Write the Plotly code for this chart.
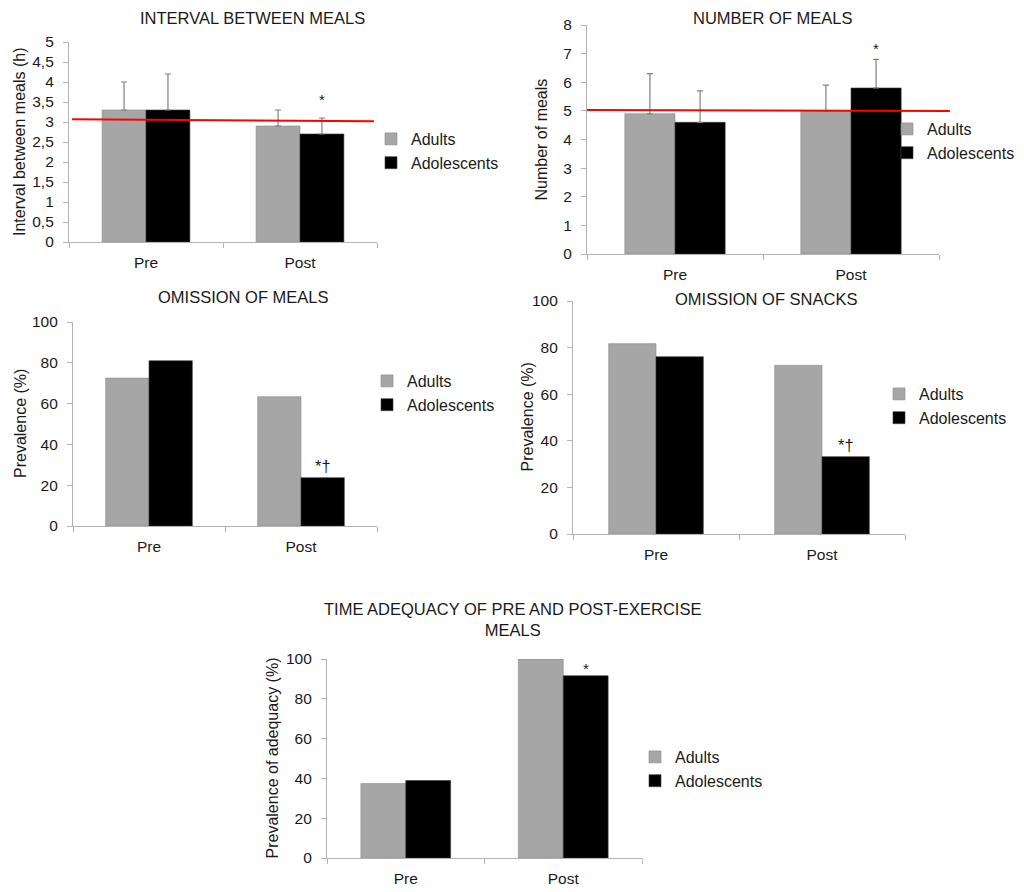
import plotly.graph_objects as go

W, H = 1024, 892
OFF = 8  # page body margin offset in the browser

categories = ["Pre", "Post"]
groups = ["Adults", "Adolescents"]

interval_adults = [3.3, 2.9]
interval_adolescents = [3.3, 2.7]
interval_adults_sd = [0.7, 0.4]
interval_adolescents_sd = [0.9, 0.4]
interval_reference = [3.07, 3.02]
interval_tickvals = [0, 0.5, 1, 1.5, 2, 2.5, 3, 3.5, 4, 4.5, 5]
interval_ticktext = ["0", "0,5", "1", "1,5", "2", "2,5", "3", "3,5", "4", "4,5", "5"]

meals_adults = [4.9, 5.0]
meals_adolescents = [4.6, 5.8]
meals_adults_sd = [1.4, 0.9]
meals_adolescents_sd = [1.1, 1.0]
meals_reference = [5.03, 5.0]
meals_tickvals = [0, 1, 2, 3, 4, 5, 6, 7, 8]

omission_meals_adults = [72.5, 63.4]
omission_meals_adolescents = [81.0, 23.7]

omission_snacks_adults = [81.7, 72.4]
omission_snacks_adolescents = [76.1, 33.2]

adequacy_adults = [37.4, 100.0]
adequacy_adolescents = [38.9, 91.6]

pct_tickvals = [0, 20, 40, 60, 80, 100]

GRAY = "#a6a6a6"
BLACK = "#000000"
AXIS = "#b3b3b3"
TXT = "#1a1a1a"
FONT = "Liberation Sans, Arial, sans-serif"
BARGAP = 0.43


def fx(px):
    return (px - OFF) / W


def fy(py):
    return 1 - (py - OFF) / H


panels = [
    dict(title="INTERVAL BETWEEN MEALS", title_xy=(252, 18),
         ytitle="Interval between meals (h)", ytitle_x=19,
         adults=interval_adults, adol=interval_adolescents,
         adults_sd=interval_adults_sd, adol_sd=interval_adolescents_sd,
         ref=interval_reference, ref_x=(0.01, 0.99),
         yr=[0, 5], tv=interval_tickvals, tt=interval_ticktext,
         box=(69, 377, 42, 242), mark="*", mark_size=15, mark_shift=8,
         legend=(371, 122)),
    dict(title="NUMBER OF MEALS", title_xy=(773, 18),
         ytitle="Number of meals", ytitle_x=541,
         adults=meals_adults, adol=meals_adolescents,
         adults_sd=meals_adults_sd, adol_sd=meals_adolescents_sd,
         ref=meals_reference, ref_x=(0.0, 1.031),
         yr=[0, 8], tv=meals_tickvals, tt=[str(v) for v in meals_tickvals],
         box=(587, 939, 25, 254), mark="*", mark_size=15, mark_shift=0,
         legend=(887, 112)),
    dict(title="OMISSION OF MEALS", title_xy=(243, 297),
         ytitle="Prevalence (%)", ytitle_x=20,
         adults=omission_meals_adults, adol=omission_meals_adolescents,
         adults_sd=None, adol_sd=None, ref=None,
         yr=[0, 100], tv=pct_tickvals, tt=[str(v) for v in pct_tickvals],
         box=(73, 377, 322, 526), mark="*†", mark_size=16.5, mark_shift=1,
         legend=(367, 364)),
    dict(title="OMISSION OF SNACKS", title_xy=(766, 299),
         ytitle="Prevalence (%)", ytitle_x=527,
         adults=omission_snacks_adults, adol=omission_snacks_adolescents,
         adults_sd=None, adol_sd=None, ref=None,
         yr=[0, 100], tv=pct_tickvals, tt=[str(v) for v in pct_tickvals],
         box=(573, 905, 301, 534), mark="*†", mark_size=16.5, mark_shift=1,
         legend=(879, 377)),
    dict(title="TIME ADEQUACY OF PRE AND POST-EXERCISE<br>MEALS", title_xy=(512, 619),
         ytitle="Prevalence of adequacy (%)", ytitle_x=272,
         adults=adequacy_adults, adol=adequacy_adolescents,
         adults_sd=None, adol_sd=None, ref=None,
         yr=[0, 100], tv=pct_tickvals, tt=[str(v) for v in pct_tickvals],
         box=(327, 642, 659, 858), mark="*", mark_size=15, mark_shift=-3,
         legend=(635, 740)),
]

fig = go.Figure()
layout = dict(width=W, height=H,
              margin=dict(l=0, r=0, t=0, b=0, pad=0, autoexpand=False),
              template="none",
              paper_bgcolor="white", plot_bgcolor="white",
              barmode="group", bargap=BARGAP, bargroupgap=0,
              font=dict(family=FONT, color=TXT, size=15))
annotations = []
shapes = []


def err(sd):
    if sd is None:
        return None
    return dict(type="data", array=sd, arrayminus=[0] * len(sd), symmetric=False,
                color="#808080", thickness=1.2, width=3)


for i, p in enumerate(panels):
    n = i + 1
    xa = "x" if n == 1 else f"x{n}"
    ya = "y" if n == 1 else f"y{n}"
    lg = "legend" if n == 1 else f"legend{n}"
    x0, x1, y0, y1 = p["box"]

    fig.add_trace(go.Bar(x=categories, y=p["adults"], name=groups[0],
                         marker=dict(color=GRAY, line=dict(color="#8c8c8c", width=0.6)),
                         error_y=err(p["adults_sd"]), xaxis=xa, yaxis=ya, legend=lg))
    fig.add_trace(go.Bar(x=categories, y=p["adol"], name=groups[1],
                         marker=dict(color=BLACK, line=dict(color="#3a3a3a", width=0.6)),
                         error_y=err(p["adol_sd"]), xaxis=xa, yaxis=ya, legend=lg))

    xk = "xaxis" if n == 1 else f"xaxis{n}"
    yk = "yaxis" if n == 1 else f"yaxis{n}"
    layout[xk] = dict(domain=[fx(x0), fx(x1)], anchor=ya, type="category",
                      range=[-0.5, 1.5], showline=True, linecolor=AXIS, linewidth=1.2,
                      ticks="outside", tickson="boundaries", ticklen=5, tickcolor=AXIS,
                      ticklabelstandoff=6, automargin=False,
                      showgrid=False, zeroline=False, tickfont=dict(size=15.5, color=TXT))
    layout[yk] = dict(domain=[fy(y1), fy(y0)], anchor=xa, range=p["yr"],
                      tickvals=p["tv"], ticktext=p["tt"], showline=True, linecolor=AXIS,
                      linewidth=1.2, ticks="outside", ticklen=5, tickcolor=AXIS,
                      ticklabelstandoff=6, automargin=False,
                      showgrid=False, zeroline=False, tickfont=dict(size=15.5, color=TXT))
    lx, ly = p["legend"]
    layout[lg] = dict(x=fx(lx), y=fy(ly), xanchor="left", yanchor="top",
                      font=dict(size=16, color=TXT), bgcolor="rgba(0,0,0,0)",
                      tracegroupgap=0, itemclick=False)

    if p["ref"] is not None:
        shapes.append(dict(type="line", xref=f"{xa} domain", yref=ya,
                           x0=p["ref_x"][0], x1=p["ref_x"][1], y0=p["ref"][0], y1=p["ref"][1],
                           line=dict(color="#ff0000", width=2), layer="above"))

    tx, ty = p["title_xy"]
    annotations.append(dict(text=p["title"], x=fx(tx), y=fy(ty), xref="paper", yref="paper",
                            xanchor="center", yanchor="middle", showarrow=False,
                            font=dict(size=16.5, color=TXT)))
    annotations.append(dict(text=p["ytitle"], x=fx(p["ytitle_x"]), y=fy((y0 + y1) / 2),
                            xref="paper", yref="paper", xanchor="center", yanchor="middle",
                            textangle=-90, showarrow=False, font=dict(size=16, color=TXT)))
    # significance mark above Post adolescents bar
    top = p["adol"][1] + (p["adol_sd"][1] if p["adol_sd"] is not None else 0)
    annotations.append(dict(text=p["mark"], x=1 + (1 - BARGAP) / 4, y=top, xref=xa, yref=ya,
                            xanchor="center", yanchor="bottom", yshift=p["mark_shift"],
                            showarrow=False, font=dict(size=p["mark_size"], color=TXT)))

layout["annotations"] = annotations
layout["shapes"] = shapes
fig.update_layout(**layout)
fig.write_html("out.html")
